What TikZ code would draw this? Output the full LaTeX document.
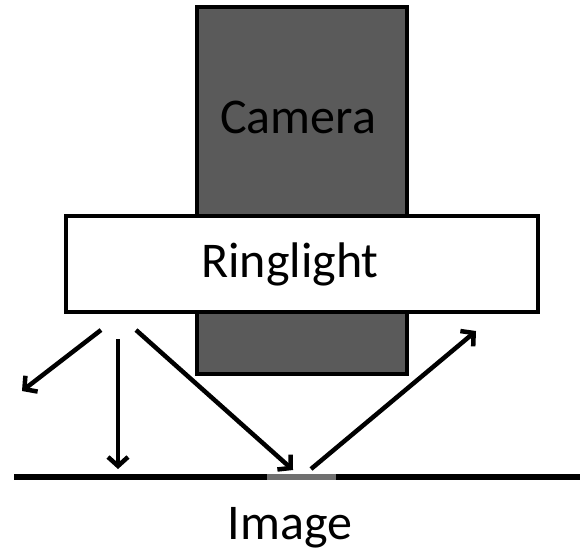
\documentclass[tikz,border=0pt]{standalone}
\usepackage{fontspec}
\setmainfont{Carlito}
\usetikzlibrary{arrows.meta}
\definecolor{camgray}{HTML}{5A5A5A}
\definecolor{spotgray}{HTML}{707070}
\tikzset{
  camerabox/.style={draw=black,line width=4pt,fill=camgray,rectangle,inner sep=0pt},
  lightbox/.style={draw=black,line width=4pt,fill=white,rectangle,inner sep=0pt},
  bigtext/.style={font=\fontsize{50}{60}\selectfont,inner sep=0pt},
  lightray/.style={draw=black,line width=4.5pt,-{Straight Barb[length=9pt,width=20pt]}},
  surface/.style={line width=6.5pt}
}
\begin{document}
\begin{tikzpicture}[x=1pt,y=-1pt]
\useasboundingbox (0,0) rectangle (580,558);
% camera body and the ring light in front of it
\node[camerabox,minimum width=210pt,minimum height=367pt] (camera) at (302,190.5) {};
\node[bigtext] (camtext) at (298,117) {Camera};
\node[lightbox,minimum width=472pt,minimum height=96pt] (ring) at (302,264) {};
\node[bigtext] (ringtext) at (290,264) {Ringlight};
% imaged surface with the viewed spot
\coordinate (sl) at (14,477);
\coordinate (sa) at (267,477);
\coordinate (sb) at (336,477);
\coordinate (sr) at (580,477);
\draw[surface] (sl) -- (sa);
\draw[surface,spotgray] (sa) -- (sb);
\draw[surface] (sb) -- (sr);
\node[bigtext] (imgtext) at (290,528) {Image};
% light rays
\coordinate (r1s) at (101,330);
\coordinate (r1e) at (22,391);
\coordinate (r2s) at (118,339);
\coordinate (r2e) at (118,469);
\coordinate (r3s) at (136,330);
\coordinate (r3e) at (293,470);
\coordinate (r4s) at (311,469);
\coordinate (r4e) at (476,331);
\draw[lightray] (r1s) -- (r1e);
\draw[lightray] (r2s) -- (r2e);
\draw[lightray] (r3s) -- (r3e);
\draw[lightray] (r4s) -- (r4e);
\end{tikzpicture}
\end{document}
